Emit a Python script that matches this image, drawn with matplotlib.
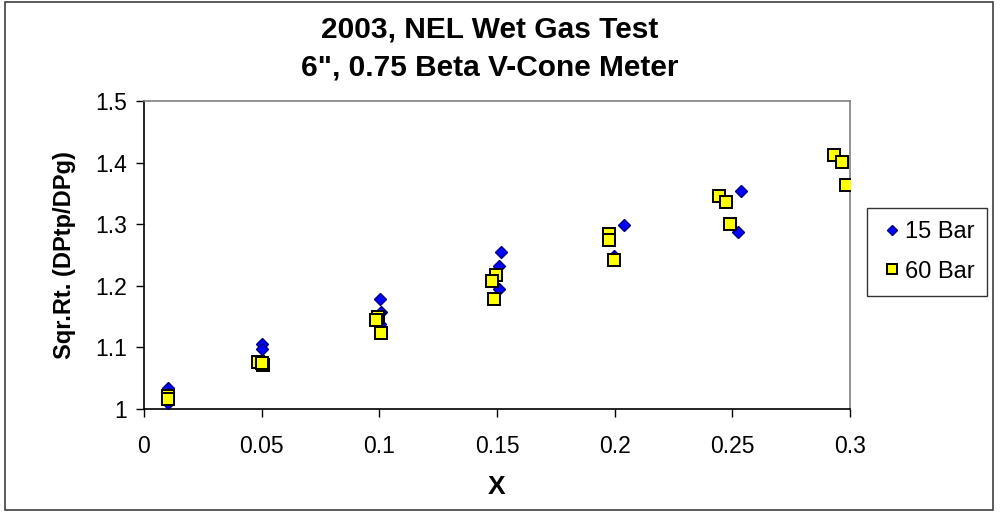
import matplotlib
matplotlib.use("Agg")
import matplotlib.pyplot as plt
from matplotlib.patches import Rectangle

plt.rcParams['font.family'] = ['Liberation Sans', 'DejaVu Sans']

title_line1 = "2003, NEL Wet Gas Test"
title_line2 = "6\", 0.75 Beta V-Cone Meter"
xlabel = "X"
ylabel = "Sqr.Rt. (DPtp/DPg)"
xticks = [0, 0.05, 0.1, 0.15, 0.2, 0.25, 0.3]
xticklabels = ["0", "0.05", "0.1", "0.15", "0.2", "0.25", "0.3"]
yticks = [1.0, 1.1, 1.2, 1.3, 1.4, 1.5]
yticklabels = ["1", "1.1", "1.2", "1.3", "1.4", "1.5"]

bar15_x = [0.010, 0.010, 0.010, 0.050, 0.050, 0.1003, 0.1005, 0.1004,
           0.1517, 0.1510, 0.1510, 0.2038, 0.1996, 0.2538, 0.2524]
bar15_y = [1.035, 1.025, 1.010, 1.106, 1.098, 1.178, 1.157, 1.138,
           1.255, 1.232, 1.194, 1.299, 1.248, 1.354, 1.288]

bar60_x = [0.010, 0.010, 0.0486, 0.0507, 0.0500, 0.0996, 0.0985, 0.1006,
           0.1496, 0.1478, 0.1486, 0.1975, 0.1975, 0.1996,
           0.2442, 0.2475, 0.2492, 0.2930, 0.2965, 0.2982]
bar60_y = [1.022, 1.016, 1.077, 1.071, 1.075, 1.150, 1.145, 1.123,
           1.218, 1.208, 1.178, 1.284, 1.274, 1.242,
           1.345, 1.336, 1.300, 1.412, 1.401, 1.363]

fig = plt.figure(figsize=(10, 5.12), dpi=100)
fig.patches.append(Rectangle((0.005, 0.003), 0.988, 0.993, transform=fig.transFigure,
                             fill=False, edgecolor='#404040', linewidth=1.2))
ax = fig.add_axes([0.144, 0.201, 0.706, 0.602])

ax.plot(bar15_x, bar15_y, linestyle='none', marker='D', markersize=6.5,
        markerfacecolor='#0000FF', markeredgecolor='#000080', markeredgewidth=1.0,
        label='15 Bar', zorder=3)
ax.plot(bar60_x, bar60_y, linestyle='none', marker='s', markersize=8,
        markerfacecolor='#FFFF00', markeredgecolor='#000000', markeredgewidth=1.4,
        label='60 Bar', zorder=4)

ax.set_xlim(0, 0.3)
ax.set_ylim(1.0, 1.5)
ax.set_xticks(xticks)
ax.set_xticklabels(xticklabels)
ax.set_yticks(yticks)
ax.set_yticklabels(yticklabels)
ax.tick_params(axis='both', direction='out', length=6, width=1, labelsize=16.5, colors='#000000')
ax.tick_params(axis='x', pad=13)
ax.tick_params(axis='y', pad=6)

for side in ['top', 'right']:
    ax.spines[side].set_color('#808080')
    ax.spines[side].set_linewidth(1.2)
for side in ['left', 'bottom']:
    ax.spines[side].set_color('#000000')
    ax.spines[side].set_linewidth(1.2)

ax.set_xlabel(xlabel, fontsize=19, fontweight='bold', labelpad=12)
ax.set_ylabel(ylabel, fontsize=17, fontweight='bold', labelpad=14)

fig.text(0.49, 1 - 30 / 512, title_line1, ha='center', va='center', fontsize=21.5,
         fontweight='bold')
fig.text(0.49, 1 - 68 / 512, title_line2, ha='center', va='center', fontsize=21.5,
         fontweight='bold')

leg = fig.legend(loc='upper left', bbox_to_anchor=(0.867, 0.594), fontsize=17,
                 frameon=True, fancybox=False, edgecolor='#000000',
                 handletextpad=0.05, handlelength=1.0, borderpad=0.55,
                 labelspacing=0.75, borderaxespad=0, markerscale=0.85)
leg.get_frame().set_linewidth(1.0)

fig.savefig('out.png', dpi=100)
